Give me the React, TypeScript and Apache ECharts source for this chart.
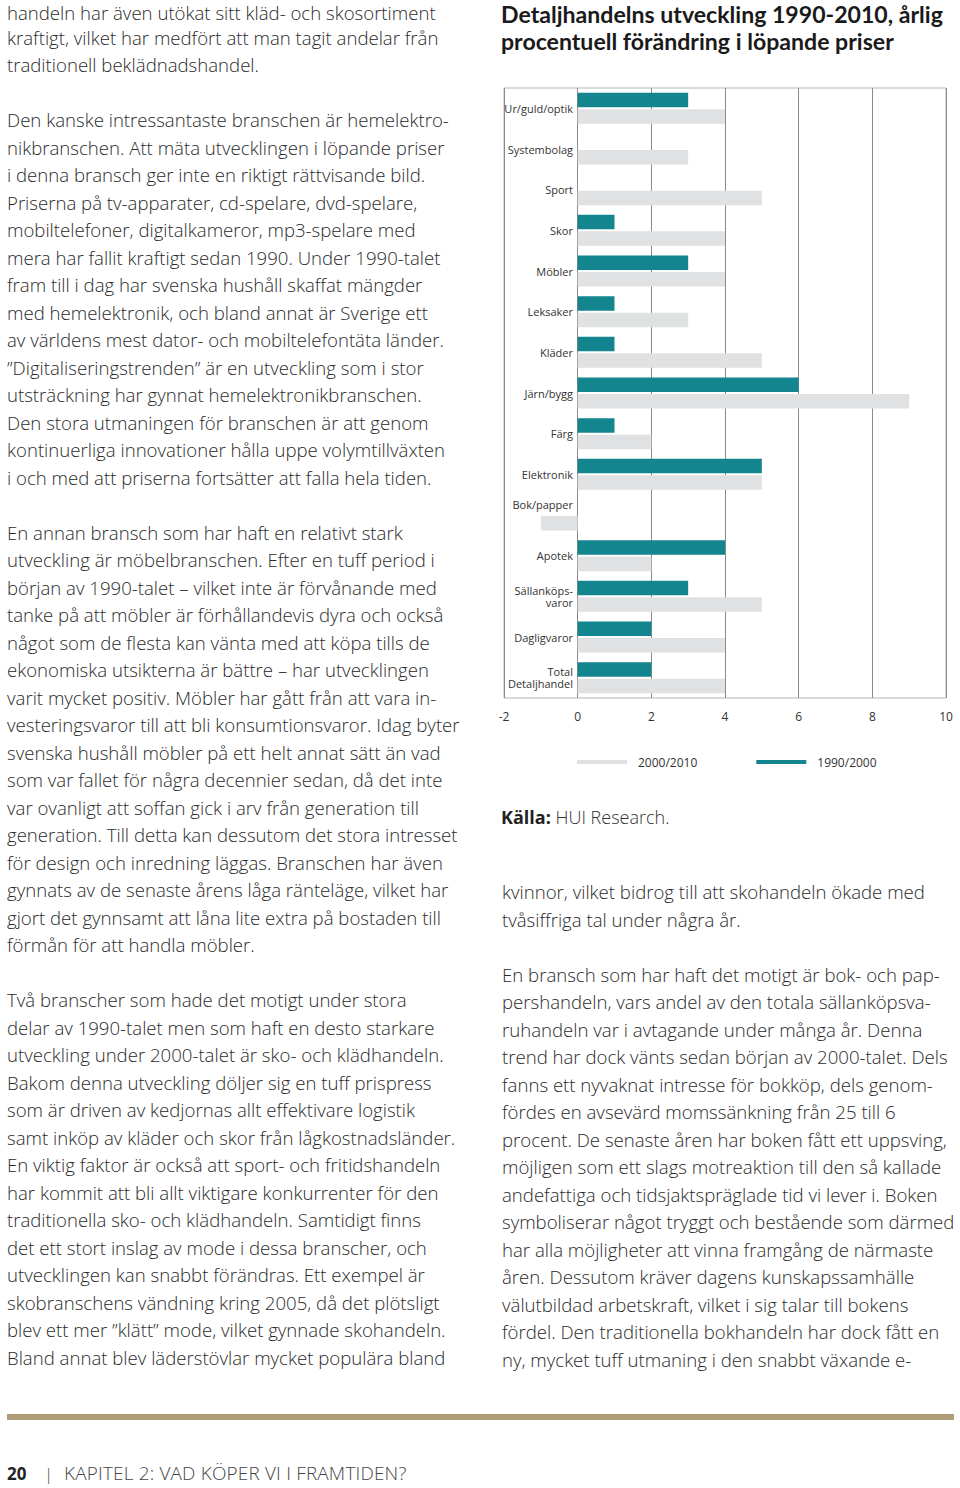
import React, { useEffect, useRef } from "react";
import * as echarts from "echarts";

const categories = [
  "Ur/guld/optik",
  "Systembolag",
  "Sport",
  "Skor",
  "Möbler",
  "Leksaker",
  "Kläder",
  "Järn/bygg",
  "Färg",
  "Elektronik",
  "Bok/papper",
  "Apotek",
  "Sällanköps-\nvaror",
  "Dagligvaror",
  "Total\nDetaljhandel",
];
const values1990_2000 = [3, 0, 0, 1, 3, 1, 1, 6, 1, 5, 0, 4, 3, 2, 2];
const values2000_2010 = [4, 3, 5, 4, 4, 3, 5, 9, 2, 5, -1, 2, 5, 4, 4];
const seriesNames = ["1990/2000", "2000/2010"];
const xTicks = { min: -2, max: 10, interval: 2 };
const raisedLabels = ["Bok/papper"];

const titleLine1 = "Detaljhandelns utveckling 1990-2010, årlig";
const titleLine2 = "procentuell förändring i löpande priser";
const sourceBold = "Källa:";
const sourceText = " HUI Research.";

const leftColumn = [
  "handeln har även utökat sitt kläd- och skosortiment",
  "kraftigt, vilket har medfört att man tagit andelar från",
  "traditionell beklädnadshandel.",
  "",
  "Den kanske intressantaste branschen är hemelektro-",
  "nikbranschen. Att mäta utvecklingen i löpande priser",
  "i denna bransch ger inte en riktigt rättvisande bild.",
  "Priserna på tv-apparater, cd-spelare, dvd-spelare,",
  "mobiltelefoner, digitalkameror, mp3-spelare med",
  "mera har fallit kraftigt sedan 1990. Under 1990-talet",
  "fram till i dag har svenska hushåll skaffat mängder",
  "med hemelektronik, och bland annat är Sverige ett",
  "av världens mest dator- och mobiltelefontäta länder.",
  "”Digitaliseringstrenden” är en utveckling som i stor",
  "utsträckning har gynnat hemelektronikbranschen.",
  "Den stora utmaningen för branschen är att genom",
  "kontinuerliga innovationer hålla uppe volymtillväxten",
  "i och med att priserna fortsätter att falla hela tiden.",
  "",
  "En annan bransch som har haft en relativt stark",
  "utveckling är möbelbranschen. Efter en tuff period i",
  "början av 1990-talet – vilket inte är förvånande med",
  "tanke på att möbler är förhållandevis dyra och också",
  "något som de flesta kan vänta med att köpa tills de",
  "ekonomiska utsikterna är bättre – har utvecklingen",
  "varit mycket positiv. Möbler har gått från att vara in-",
  "vesteringsvaror till att bli konsumtionsvaror. Idag byter",
  "svenska hushåll möbler på ett helt annat sätt än vad",
  "som var fallet för några decennier sedan, då det inte",
  "var ovanligt att soffan gick i arv från generation till",
  "generation. Till detta kan dessutom det stora intresset",
  "för design och inredning läggas. Branschen har även",
  "gynnats av de senaste årens låga ränteläge, vilket har",
  "gjort det gynnsamt att låna lite extra på bostaden till",
  "förmån för att handla möbler.",
  "",
  "Två branscher som hade det motigt under stora",
  "delar av 1990-talet men som haft en desto starkare",
  "utveckling under 2000-talet är sko- och klädhandeln.",
  "Bakom denna utveckling döljer sig en tuff prispress",
  "som är driven av kedjornas allt effektivare logistik",
  "samt inköp av kläder och skor från lågkostnadsländer.",
  "En viktig faktor är också att sport- och fritidshandeln",
  "har kommit att bli allt viktigare konkurrenter för den",
  "traditionella sko- och klädhandeln. Samtidigt finns",
  "det ett stort inslag av mode i dessa branscher, och",
  "utvecklingen kan snabbt förändras. Ett exempel är",
  "skobranschens vändning kring 2005, då det plötsligt",
  "blev ett mer ”klätt” mode, vilket gynnade skohandeln.",
  "Bland annat blev läderstövlar mycket populära bland",
];

const rightColumn = [
  "kvinnor, vilket bidrog till att skohandeln ökade med",
  "tvåsiffriga tal under några år.",
  "",
  "En bransch som har haft det motigt är bok- och pap-",
  "pershandeln, vars andel av den totala sällanköpsva-",
  "ruhandeln var i avtagande under många år. Denna",
  "trend har dock vänts sedan början av 2000-talet. Dels",
  "fanns ett nyvaknat intresse för bokköp, dels genom-",
  "fördes en avsevärd momssänkning från 25 till 6",
  "procent. De senaste åren har boken fått ett uppsving,",
  "möjligen som ett slags motreaktion till den så kallade",
  "andefattiga och tidsjaktspräglade tid vi lever i. Boken",
  "symboliserar något tryggt och bestående som därmed",
  "har alla möjligheter att vinna framgång de närmaste",
  "åren. Dessutom kräver dagens kunskapssamhälle",
  "välutbildad arbetskraft, vilket i sig talar till bokens",
  "fördel. Den traditionella bokhandeln har dock fått en",
  "ny, mycket tuff utmaning i den snabbt växande e-",
];

const pageNumber = "20";
const chapterTitle = "KAPITEL 2: VAD KÖPER VI I FRAMTIDEN?";

const TEAL = "#13858e";
const GRAY = "#e0e1e2";
const BODY_FONT = "'Open Sans', 'Noto Sans', sans-serif";
const TITLE_FONT = "Lato, sans-serif";

function Column({
  lines,
  left,
  top,
  firstLine,
}: {
  lines: string[];
  left: number;
  top: number;
  firstLine?: { height: number; lineHeight: number };
}) {
  return (
    <div
      style={{
        position: "absolute",
        left,
        top,
        fontFamily: BODY_FONT,
        fontSize: 18.6,
        fontWeight: 300,
        lineHeight: "27.5px",
        color: "#2a2a2a",
        whiteSpace: "pre",
      }}
    >
      {lines.map((l, i) =>
        i === 0 && firstLine ? (
          <div key={i} style={{ height: firstLine.height, lineHeight: `${firstLine.lineHeight}px` }}>
            {l}
          </div>
        ) : (
          <div key={i} style={{ height: 27.5 }}>
            {l}
          </div>
        )
      )}
    </div>
  );
}

function Chart() {
  const ref = useRef<HTMLDivElement>(null);
  useEffect(() => {
    if (!ref.current) return;
    const chart = echarts.init(ref.current, undefined, { renderer: "svg" });
    const titleStyle = {
      fontFamily: TITLE_FONT,
      fontSize: 23.1,
      fontWeight: "bold",
      lineHeight: 23,
      color: "#1a1a1a",
    };
    chart.setOption({
      animation: false,
      title: {
        text: titleLine1,
        subtext: titleLine2,
        left: 6,
        top: 2.5,
        padding: 0,
        itemGap: 4,
        textStyle: titleStyle,
        subtextStyle: titleStyle,
      },
      legend: {
        data: [seriesNames[1], seriesNames[0]],
        left: 77,
        top: 751,
        icon: "rect",
        itemWidth: 50,
        itemHeight: 4,
        itemGap: 59,
        textStyle: {
          fontFamily: BODY_FONT,
          fontSize: 12,
          color: "#333",
          padding: [0, 0, 0, 6],
        },
      },
      grid: {
        left: 9,
        right: 14,
        top: 88,
        bottom: 142,
        show: true,
        borderColor: "#b5b5b5",
        borderWidth: 1,
        containLabel: false,
        outerBoundsMode: "none",
      },
      xAxis: {
        type: "value",
        min: xTicks.min,
        max: xTicks.max,
        interval: xTicks.interval,
        axisLine: { show: false },
        axisTick: { show: false },
        splitLine: { show: true, lineStyle: { color: "#8a8a8a", width: 1 } },
        axisLabel: {
          margin: 12,
          fontFamily: BODY_FONT,
          fontSize: 12,
          color: "#333",
        },
      },
      yAxis: {
        type: "category",
        inverse: true,
        data: categories,
        axisLine: { show: false, onZero: false },
        axisTick: { show: false },
        splitLine: { show: false },
        axisLabel: {
          margin: -69,
          fontFamily: BODY_FONT,
          fontSize: 11,
          lineHeight: 12.5,
          color: "#333",
          interval: 0,
          formatter: (v: string) => (raisedLabels.includes(v) ? `{up|${v}}` : v),
          rich: {
            up: {
              fontFamily: BODY_FONT,
              fontSize: 11,
              color: "#333",
              padding: [0, 0, 22, 0],
            },
          },
        },
      },
      series: [
        {
          name: seriesNames[0],
          type: "bar",
          data: values1990_2000,
          barWidth: 14.5,
          barGap: "14%",
          itemStyle: { color: TEAL },
        },
        {
          name: seriesNames[1],
          type: "bar",
          data: values2000_2010,
          barWidth: 14.5,
          barGap: "14%",
          itemStyle: { color: GRAY },
        },
      ],
      graphic: [
        {
          type: "text",
          left: 6,
          top: 808,
          style: {
            text: `{b|${sourceBold}}{n|${sourceText}}`,
            rich: {
              b: { fontFamily: BODY_FONT, fontSize: 18, fontWeight: "bold", fill: "#222" },
              n: { fontFamily: BODY_FONT, fontSize: 18, fontWeight: 300, fill: "#333" },
            },
          },
        },
      ],
    });
    return () => chart.dispose();
  }, []);
  return (
    <div
      ref={ref}
      style={{ position: "absolute", left: 495, top: 0, width: 465, height: 840 }}
    />
  );
}

export default function App() {
  return (
    <div
      style={{
        position: "absolute",
        left: 0,
        top: 0,
        width: 960,
        height: 1488,
        background: "#fff",
        overflow: "hidden",
      }}
    >
      <Column lines={leftColumn} left={7} top={0} firstLine={{ height: 23.5, lineHeight: 25.5 }} />
      <Column lines={rightColumn} left={502} top={878} />
      <Chart />
      <div
        style={{
          position: "absolute",
          left: 7,
          top: 1414,
          width: 947,
          height: 6,
          background: "#b19c78",
        }}
      />
      <div
        style={{
          position: "absolute",
          left: 7,
          top: 1462,
          fontFamily: BODY_FONT,
          fontSize: 17,
          color: "#444",
          whiteSpace: "pre",
          lineHeight: "24px",
        }}
      >
        <span style={{ fontWeight: "bold", color: "#222" }}>{pageNumber}</span>
        <span style={{ position: "absolute", left: 37, top: 0, fontWeight: 300 }}>|</span>
        <span
          style={{ position: "absolute", left: 57, top: -1, fontSize: 18.9, fontWeight: 300, letterSpacing: 0.2 }}
        >
          {chapterTitle}
        </span>
      </div>
    </div>
  );
}
